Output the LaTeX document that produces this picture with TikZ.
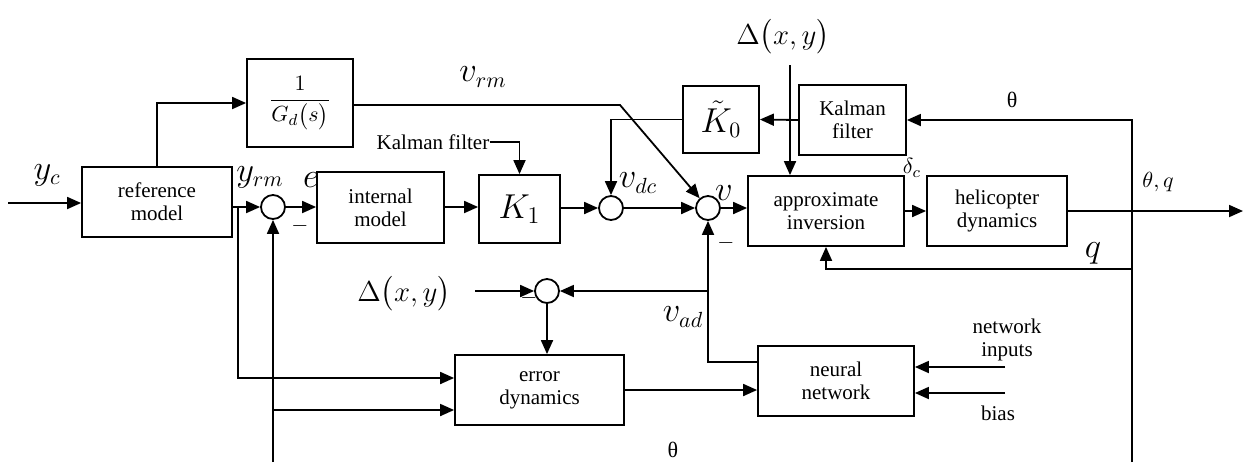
\documentclass[tikz,border=0pt]{standalone}
\usepackage{amsmath}
\usepackage{fontspec}
\setmainfont{Liberation Serif}
\usetikzlibrary{
    positioning,
    arrows.meta,
    calc
}

\tikzset{
    blk/.style={draw, line width=0.9pt, align=center, inner sep=0pt,
        font=\fontsize{10.5}{11.5}\selectfont},
    sumc/.style={draw, circle, line width=0.9pt, minimum size=12pt, inner sep=0pt},
    arr/.style={-{Triangle[length=7pt,width=6pt]}, line width=0.9pt},
    lbl/.style={inner sep=0pt, font=\fontsize{16}{18}\selectfont},
    dlt/.style={inner sep=0pt, font=\fontsize{14}{16}\selectfont},
    sml/.style={inner sep=0pt, font=\fontsize{11}{12}\selectfont},
    txt/.style={inner sep=0pt, align=center, font=\fontsize{10.5}{11.5}\selectfont}
}

\begin{document}
\begin{tikzpicture}[x=0.5pt,y=-0.5pt]
    \useasboundingbox (0,0) rectangle (1245,462);

    \node[blk, minimum width=75pt, minimum height=35pt] (ref) at (157,202) {reference\\model};
    \node[blk, minimum width=53pt, minimum height=44pt, font=\fontsize{11}{12}\selectfont] (gd) at (300,103) {$\displaystyle\frac{1}{G_d\bigl(s\bigr)}$};
    \node[blk, minimum width=63.5pt, minimum height=35.5pt] (intm) at (380.5,207.5) {internal\\model};
    \node[blk, minimum width=40.5pt, minimum height=34pt, font=\fontsize{17}{18}\selectfont] (k1) at (519.5,209) {$K_1$};
    \node[blk, minimum width=38pt, minimum height=33.5pt, font=\fontsize{16}{17}\selectfont] (k0) at (721,119.5) {$\tilde{K}_0$};
    \node[blk, minimum width=53.5pt, minimum height=35pt] (kf) at (852.5,120) {Kalman\\filter};
    \node[blk, minimum width=78pt, minimum height=35pt] (inv) at (826,211) {approximate\\inversion};
    \node[blk, minimum width=70pt, minimum height=35pt] (heli) at (997,211) {helicopter\\dynamics};
    \node[blk, minimum width=84.5pt, minimum height=35pt] (errd) at (539.5,390) {error\\dynamics};
    \node[blk, minimum width=78pt, minimum height=35pt] (nn) at (836,381) {neural\\network};

    \node[sumc] (s1) at (273,207) {};
    \node[sumc] (s2) at (611,208) {};
    \node[sumc] (s3) at (708,208) {};
    \node[sumc] (s4) at (547,291) {};

    \node[lbl] (yc) at (47,175) {$y_c$};
    \node[lbl] (yrm) at (260,177) {$y_{rm}$};
    \node[lbl] (elbl) at (311,180) {$e$};
    \node[sml] (m1) at (300,226) {$-$};
    \node[lbl] (vrm) at (483,77) {$v_{rm}$};
    \node[lbl] (vdc) at (638,183) {$v_{dc}$};
    \node[lbl] (vlbl) at (724,193) {$v$};
    \node[sml] (m3) at (726,243) {$-$};
    \node[dlt] (dtop) at (783,37) {$\Delta\bigl(x,y\bigr)$};
    \node[sml] (dc) at (912,168) {$\delta_c$};
    \node[sml] (thq) at (1158,182) {$\theta,q$};
    \node[sml] (th1) at (1012,100) {θ};
    \node[lbl] (qlbl) at (1093,253) {$q$};
    \node[lbl] (vad) at (683,317) {$v_{ad}$};
    \node[dlt] (dleft) at (404,294) {$\Delta\bigl(x,y\bigr)$};
    \node[sml] (m4) at (529,298) {$-$};
    \node[txt] (kfin) at (433,142) {Kalman filter};
    \node[txt] (nin) at (1007,340) {network\\inputs};
    \node[txt] (bias) at (998,413) {bias};
    \node[sml] (th2) at (673,450) {θ};

    \coordinate (yin) at (8,203);
    \coordinate (br1) at (238,207);
    \coordinate (fb1) at (273,462);
    \coordinate (fb2) at (273,410);
    \coordinate (vb) at (620,105);
    \coordinate (din) at (790,65);
    \coordinate (yout) at (1243,211);
    \coordinate (fbr) at (1132,462);
    \coordinate (qb) at (1132,269);
    \coordinate (nb) at (708,291);
    \coordinate (dl) at (475,291);
    \coordinate (nin1) at (1005,367);
    \coordinate (bin1) at (1005,393);

    \draw[arr] (yin) -- (yin-|ref.west);
    \draw[arr] (ref.north) |- (gd.west);
    \draw[arr] (ref.east|-s1) -- (s1);
    \draw[arr] (br1) |- ($(errd.west)+(0,-12)$);
    \draw[arr] (s1) -- (s1-|intm.west);
    \draw[arr] (fb1) -- (s1);
    \draw[arr] (fb2) -- (fb2-|errd.west);
    \draw[arr] (s1-|intm.east) -- (s1-|k1.west);
    \draw[arr] (kfin.east) -| (k1.north);
    \draw[arr] (s2-|k1.east) -- (s2);
    \draw[arr] (s2) -- (s3);
    \draw[arr] (k0.west) -| (s2);
    \draw[arr] (gd.east|-vb) -- (vb) -- (s3);
    \draw[arr] (s3) -- (s3-|inv.west);
    \draw[arr] (din) -- (din|-inv.north);
    \draw[arr] (kf.west) -- (k0.east);
    \draw[arr] (inv.east) -- (heli.west);
    \draw[arr] (heli.east) -- (yout);
    \draw[arr] (fbr) |- (kf.east);
    \draw[arr] (qb) -| (inv.south);
    \draw[arr] ($(nn.west)+(0,-19)$) -| (s3);
    \draw[arr] (nb) -- (s4);
    \draw[arr] (dl) -- (s4);
    \draw[arr] (s4) -- (s4|-errd.north);
    \draw[arr] (errd.east) -- (errd.east-|nn.west);
    \draw[arr] (nin1) -- (nin1-|nn.east);
    \draw[arr] (bin1) -- (bin1-|nn.east);
\end{tikzpicture}
\end{document}
